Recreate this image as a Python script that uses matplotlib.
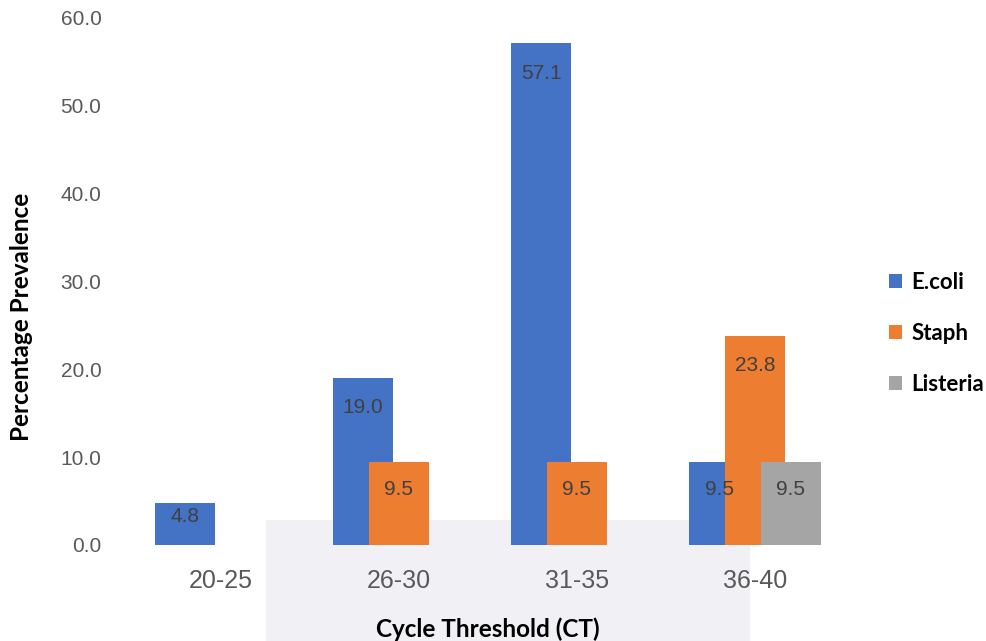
import matplotlib
matplotlib.use("Agg")
import matplotlib.pyplot as plt
import numpy as np
from matplotlib.patches import Rectangle

categorias = ["20-25", "26-30", "31-35", "36-40"]
series = ["E.coli", "Staph", "Listeria"]
ecoli = [4.8, 19.0, 57.1, 9.5]
staph = [None, 9.5, 9.5, 23.8]
listeria = [None, None, None, 9.5]
colores = ["#4472C4", "#ED7D31", "#A5A5A5"]

fig = plt.figure(figsize=(9.87, 6.41), dpi=100)
ax = fig.add_axes([0.1337, 0.1498, 0.7214, 0.8222])
ax.patch.set_alpha(0)

# faint panel behind the lower part of the chart
fig.patches.append(Rectangle((266 / 987, 0), 484 / 987, 121 / 641,
                             transform=fig.transFigure, facecolor="#F1F1F5",
                             edgecolor="none", zorder=-1))

x = np.arange(len(categorias))
ancho = 0.337
desplaz = 0.202

for i, (nombre, valores) in enumerate(zip(series, [ecoli, staph, listeria])):
    pos = x + (i - 1) * desplaz
    for xi, v in zip(pos, valores):
        if v is None:
            continue
        ax.bar(xi, v, ancho, color=colores[i], zorder=2 + i)
        y_txt = v - min(3.4, v * 0.33)
        ax.text(xi, y_txt, f"{v:.1f}", ha="center", va="center",
                fontsize=15, color="#404040", family="Liberation Sans", zorder=10)
    ax.bar(0, 0, 0, color=colores[i], label=nombre)

ax.set_xlim(-0.5, 3.5)
ax.set_ylim(0, 60)
ax.set_xticks(x)
ax.set_xticklabels(categorias, fontsize=18, color="#595959", family="Liberation Sans")
ax.set_yticks(np.arange(0, 61, 10))
ax.set_yticklabels([f"{t:.1f}" for t in np.arange(0, 61, 10)], fontsize=15,
                   color="#595959", family="Liberation Sans")
ax.tick_params(axis="x", length=0, pad=17)
ax.tick_params(axis="y", length=0, pad=22)
for s in ax.spines.values():
    s.set_visible(False)

ax.set_xlabel("Cycle Threshold (CT)", fontsize=17.5, fontweight="bold",
              family="Lato", labelpad=18)
ax.set_ylabel("Percentage Prevalence", fontsize=17.5, fontweight="bold",
              family="Lato")
ax.yaxis.set_label_coords(-0.139, 0.433)

leg = ax.legend(loc="center left", bbox_to_anchor=(1.035, 0.402), frameon=False,
                prop={"family": "Lato", "weight": "bold", "size": 16},
                handlelength=0.6, handleheight=0.6, handletextpad=0.4,
                labelspacing=1.35)

fig.savefig("out.png", dpi=100)
